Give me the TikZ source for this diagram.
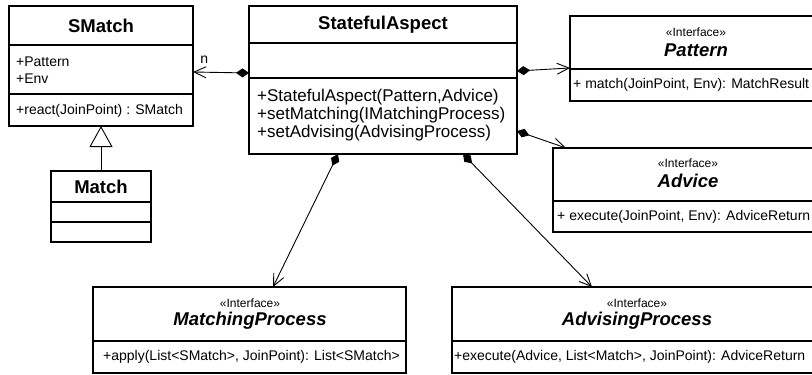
\documentclass[tikz,border=0pt]{standalone}
\usepackage{fontspec}
\setmainfont{Liberation Sans}
\usetikzlibrary{arrows.meta,calc}

\newcommand{\fs}[1]{\fontsize{#1}{#1}\selectfont}

\begin{document}
\begin{tikzpicture}[x=1pt,y=1pt,
  umlbox/.style={draw, line width=1.2pt, inner sep=0pt, outer sep=0pt, anchor=north west, fill=white},
  sepline/.style={line width=1.2pt},
  title/.style={inner sep=0pt, font=\fs{18.5}\bfseries},
  ititle/.style={inner sep=0pt, font=\fs{18.5}\bfseries\itshape},
  stereo/.style={inner sep=0pt, font=\fs{12}},
  member/.style={inner sep=0pt, anchor=west, font=\fs{14}},
  bigmember/.style={inner sep=0pt, anchor=west, font=\fs{17}},
  comp/.style={line width=0.9pt, {Diamond[length=13pt,width=9pt]}-{Straight Barb[length=12pt,width=11pt,line width=0.9pt]}},
  gen/.style={line width=0.9pt, -{Triangle[open,length=21pt,width=23pt,fill=white,line width=0.9pt]}}
]
\useasboundingbox (0,0) rectangle (812,-375);
\clip (0,0) rectangle (812,-375);
\fill[white] (0,0) rectangle (812,-375);

% ---------- SMatch ----------
\node[umlbox, minimum width=184pt, minimum height=120pt] (smatch) at (9,-6) {};
\draw[sepline] ($(smatch.north west)+(0,-39)$) -- ($(smatch.north east)+(0,-39)$);
\draw[sepline] ($(smatch.north west)+(0,-88)$) -- ($(smatch.north east)+(0,-88)$);
\node[title] (smatchT) at (101,-26) {SMatch};
\node[member] (smatchA1) at (16,-62) {+Pattern};
\node[member] (smatchA2) at (16,-79) {+Env};
\node[member] (smatchM1) at (16,-111) {+react(JoinPoint) : SMatch};

% ---------- Match ----------
\node[umlbox, minimum width=100pt, minimum height=71pt] (match) at (51,-171) {};
\draw[sepline] ($(match.north west)+(0,-31)$) -- ($(match.north east)+(0,-31)$);
\draw[sepline] ($(match.north west)+(0,-51)$) -- ($(match.north east)+(0,-51)$);
\node[title] (matchT) at (101,-187) {Match};

% ---------- StatefulAspect ----------
\node[umlbox, minimum width=268pt, minimum height=148pt] (sa) at (249,-6) {};
\draw[sepline] ($(sa.north west)+(0,-37)$) -- ($(sa.north east)+(0,-37)$);
\draw[sepline] ($(sa.north west)+(0,-72)$) -- ($(sa.north east)+(0,-72)$);
\node[title] (saT) at (383,-25) {StatefulAspect};
\node[bigmember] (saM1) at (257,-97) {+StatefulAspect(Pattern,Advice)};
\node[bigmember] (saM2) at (257,-115) {+setMatching(IMatchingProcess)};
\node[bigmember] (saM3) at (257,-133) {+setAdvising(AdvisingProcess)};

% ---------- Pattern ----------
\node[umlbox, minimum width=252pt, minimum height=85pt] (pattern) at (570,-16) {};
\draw[sepline] ($(pattern.north west)+(0,-53)$) -- ($(pattern.north east)+(0,-53)$);
\node[stereo] (patternS) at (696,-32) {«Interface»};
\node[ititle] (patternT) at (696,-50) {Pattern};
\node[member] (patternM) at (573,-85) {+ match(JoinPoint, Env): MatchResult};

% ---------- Advice ----------
\node[umlbox, minimum width=269pt, minimum height=84pt] (advice) at (553,-148) {};
\draw[sepline] ($(advice.north west)+(0,-53)$) -- ($(advice.north east)+(0,-53)$);
\node[stereo] (adviceS) at (688,-163) {«Interface»};
\node[ititle] (adviceT) at (688,-181) {Advice};
\node[member] (adviceM) at (557,-217) {+ execute(JoinPoint, Env): AdviceReturn};

% ---------- MatchingProcess ----------
\node[umlbox, minimum width=313pt, minimum height=86pt] (mp) at (93,-287) {};
\draw[sepline] ($(mp.north west)+(0,-54)$) -- ($(mp.north east)+(0,-54)$);
\node[stereo] (mpS) at (250,-303) {«Interface»};
\node[ititle] (mpT) at (250,-321) {MatchingProcess};
\node[member] (mpM) at (103,-357) {+apply(List<SMatch>, JoinPoint): List<SMatch>};

% ---------- AdvisingProcess ----------
\node[umlbox, minimum width=370pt, minimum height=86pt] (ap) at (452,-287) {};
\draw[sepline] ($(ap.north west)+(0,-54)$) -- ($(ap.north east)+(0,-54)$);
\node[stereo] (apS) at (637,-303) {«Interface»};
\node[ititle] (apT) at (637,-321) {AdvisingProcess};
\node[member] (apM) at (454,-357) {+execute(Advice, List<Match>, JoinPoint): AdviceReturn};

% ---------- connectors ----------
\draw[comp] ($(sa.north west)+(0,-67)$) -- node[pos=0.8, above=8pt, inner sep=0pt, font=\fs{14}] (nlabel) {n} ($(smatch.north east)+(0,-66)$);
\draw[comp] ($(sa.north east)+(0,-65)$) -- ($(pattern.north west)+(0,-52)$);
\draw[comp] ($(sa.north east)+(0,-125)$) -- ($(advice.north west)+(13,0)$);
\draw[comp] ($(sa.south west)+(89,0)$) -- ($(mp.north west)+(180,0)$);
\draw[comp] ($(sa.south west)+(214,0)$) -- ($(ap.north west)+(140,0)$);
\draw[gen] (match.north) -- (smatch.south);
\end{tikzpicture}
\end{document}
